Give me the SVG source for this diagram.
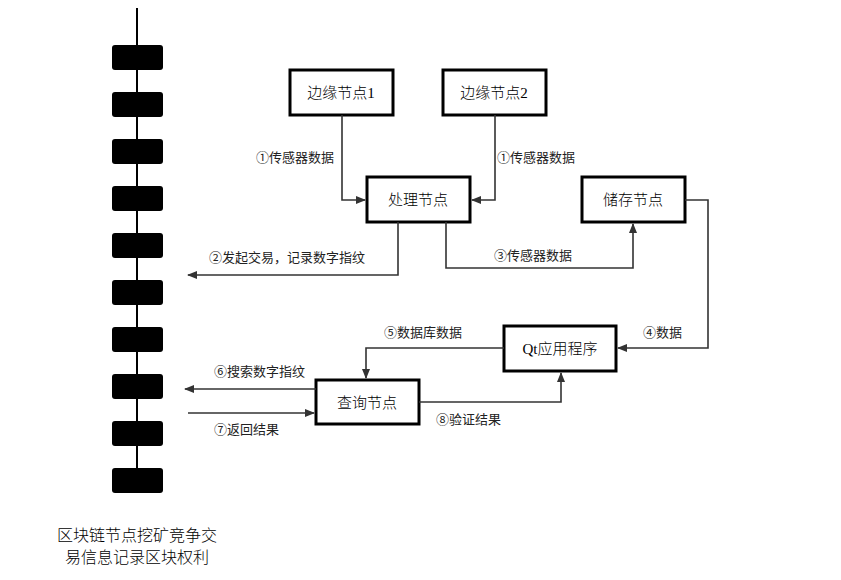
<svg xmlns="http://www.w3.org/2000/svg" width="841" height="580" viewBox="0 0 841 580">
<style>
.b{fill:#fff;stroke:#000;stroke-width:3}
.t{font-family:"Liberation Serif","Noto Sans CJK SC",serif;font-size:15px;font-weight:300;text-anchor:middle;fill:#000}
.cap{font-size:16px}
.l{font-family:"Liberation Sans","Noto Sans CJK SC",sans-serif;font-size:13px;fill:#222}
.c{fill:none;stroke:#333;stroke-width:1.6}
.blk{fill:#000}
</style>
<defs><marker id="a" markerWidth="10" markerHeight="8" refX="9" refY="4" orient="auto" markerUnits="userSpaceOnUse"><path d="M0,0L10,4L0,8Z" fill="#333"/></marker></defs>
<rect width="841" height="580" fill="#fff"/>
<g id="chain">
<line x1="137" y1="8" x2="137" y2="492" stroke="#000" stroke-width="2"/>
<rect class="blk" x="112" y="45" width="51" height="25" rx="3"/>
<rect class="blk" x="112" y="92" width="51" height="25" rx="3"/>
<rect class="blk" x="112" y="139" width="51" height="25" rx="3"/>
<rect class="blk" x="112" y="186" width="51" height="25" rx="3"/>
<rect class="blk" x="112" y="233" width="51" height="25" rx="3"/>
<rect class="blk" x="112" y="280" width="51" height="25" rx="3"/>
<rect class="blk" x="112" y="327" width="51" height="25" rx="3"/>
<rect class="blk" x="112" y="374" width="51" height="25" rx="3"/>
<rect class="blk" x="112" y="421" width="51" height="25" rx="3"/>
<rect class="blk" x="112" y="468" width="51" height="25" rx="3"/>
<text class="t cap" x="137" y="541">区块链节点挖矿竞争交</text>
<text class="t cap" x="137" y="563">易信息记录区块权利</text>
</g>
<g id="edge1"><rect class="b" x="290" y="70" width="103" height="45"/><text class="t" x="341" y="98">边缘节点1</text></g>
<g id="edge2"><rect class="b" x="443" y="70" width="103" height="45"/><text class="t" x="494" y="98">边缘节点2</text></g>
<g id="proc"><rect class="b" x="367" y="177" width="103" height="45"/><text class="t" x="418" y="205">处理节点</text></g>
<g id="store"><rect class="b" x="582" y="177" width="103" height="45"/><text class="t" x="633" y="205">储存节点</text></g>
<g id="qt"><rect class="b" x="504" y="326" width="112" height="45"/><text class="t" x="560" y="354">Qt应用程序</text></g>
<g id="query"><rect class="b" x="316" y="380" width="103" height="44"/><text class="t" x="367" y="408">查询节点</text></g>
<g id="connectors">
<path class="c" d="M342,115V200H365" marker-end="url(#a)"/>
<path class="c" d="M495,115V200H472" marker-end="url(#a)"/>
<path class="c" d="M398,222V275H188" marker-end="url(#a)"/>
<path class="c" d="M446,222V268H633V224" marker-end="url(#a)"/>
<path class="c" d="M685,200H708V348H618" marker-end="url(#a)"/>
<path class="c" d="M504,348H366V378" marker-end="url(#a)"/>
<path class="c" d="M316,389H185" marker-end="url(#a)"/>
<path class="c" d="M188,413H314" marker-end="url(#a)"/>
<path class="c" d="M419,402H561V373" marker-end="url(#a)"/>
<text class="l" x="256" y="162">①传感器数据</text>
<text class="l" x="497" y="162">①传感器数据</text>
<text class="l" x="209" y="262">②发起交易，记录数字指纹</text>
<text class="l" x="494" y="260">③传感器数据</text>
<text class="l" x="643" y="337">④数据</text>
<text class="l" x="384" y="337">⑤数据库数据</text>
<text class="l" x="214" y="376">⑥搜索数字指纹</text>
<text class="l" x="214" y="434">⑦返回结果</text>
<text class="l" x="436" y="424">⑧验证结果</text>
</g>
</svg>
